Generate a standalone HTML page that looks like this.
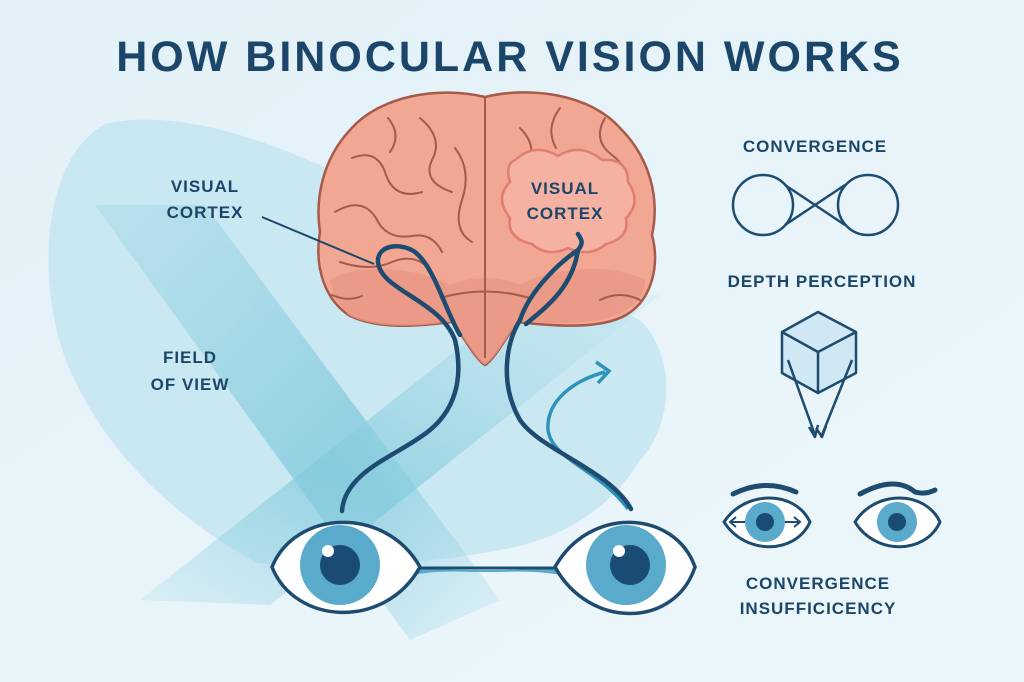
<!DOCTYPE html>
<html><head><meta charset="utf-8"><style>
html,body{margin:0;padding:0;width:1024px;height:682px;overflow:hidden;background:#e6f4f9}
svg{display:block}
text{font-family:"Liberation Sans",sans-serif;font-weight:bold;fill:#1c4669}
</style></head><body>
<svg width="1024" height="682" viewBox="0 0 1024 682" xmlns="http://www.w3.org/2000/svg">
<defs>
<linearGradient id="bg" x1="0" y1="0" x2="1" y2="1"><stop offset="0" stop-color="#e2f1f8"/><stop offset="1" stop-color="#ecf7fb"/></linearGradient>
<linearGradient id="b1" x1="0" y1="0" x2="1" y2="1"><stop offset="0" stop-color="#a8dae8" stop-opacity="0.5"/><stop offset="0.6" stop-color="#7fc8dc" stop-opacity="0.75"/><stop offset="1" stop-color="#a8dae8" stop-opacity="0.2"/></linearGradient>
<linearGradient id="b2" x1="0" y1="1" x2="1" y2="0"><stop offset="0" stop-color="#9dd5e4" stop-opacity="0.2"/><stop offset="0.4" stop-color="#80c9dc" stop-opacity="0.7"/><stop offset="1" stop-color="#c7e7f1" stop-opacity="0.4"/></linearGradient>
</defs>
<rect width="1024" height="682" fill="url(#bg)"/>
<path d="M105 124 C190 105 300 150 420 215 L640 320 C680 360 670 430 640 460 C610 510 560 540 500 550 C420 565 330 570 257 563 C180 520 110 460 70 370 C35 290 40 160 105 124Z" fill="#c4e5f0" opacity="0.85"/>
<path d="M95 205 L205 205 L500 600 L410 640 Z" fill="url(#b1)"/>
<path d="M140 600 L270 605 L660 295 L520 300 Z" fill="url(#b2)"/>
<!-- title -->
<text x="510" y="71" font-size="43" text-anchor="middle" letter-spacing="3">HOW BINOCULAR VISION WORKS</text>
<!-- brain -->
<path d="M485 97 C440 86 380 95 350 130 C322 160 315 200 320 232 C314 268 325 300 350 316 C380 330 420 326 452 322 C466 340 476 360 485 365 C494 360 504 340 518 322 C552 326 600 330 626 315 C652 300 660 265 652 235 C660 198 650 158 620 128 C590 94 530 86 485 97Z" fill="#f2a792" stroke="#a65a4c" stroke-width="2.5"/>
<path d="M330 280 C360 262 420 268 450 285 C470 276 500 276 520 285 C550 268 610 262 645 280 C645 300 630 312 600 320 C570 325 540 322 518 322 C505 340 494 360 485 365 C476 360 466 340 452 322 C420 326 380 330 350 316 C338 305 332 293 330 280Z" fill="#e79783" opacity="0.8"/>
<path d="M485 97 L485 300 M485 300 L485 358" stroke="#a65a4c" stroke-width="2" fill="none"/>
<path d="M440 298 Q485 285 530 298" stroke="#a65a4c" stroke-width="2" fill="none"/>
<g stroke="#a65a4c" stroke-width="2" fill="none" stroke-linecap="round">
<path d="M352 158 Q378 148 386 175 Q395 200 422 192"/>
<path d="M335 212 Q362 196 376 218 Q386 240 412 236 Q432 232 442 252"/>
<path d="M420 118 Q444 138 432 160 Q422 182 452 192"/>
<path d="M455 148 Q472 170 462 200 Q452 230 472 242"/>
<path d="M340 262 Q370 272 392 262 Q416 252 432 272"/>
<path d="M388 118 Q402 135 390 152"/>
<path d="M605 118 Q592 140 612 155 Q632 170 622 192"/>
<path d="M560 108 Q545 128 556 148"/>
<path d="M520 128 Q540 148 525 170"/>
<path d="M600 300 Q620 290 640 300"/>
<path d="M332 295 Q348 302 362 296"/>
</g>
<path d="M515 160 Q535 142 558 156 Q580 142 602 160 Q628 158 628 182 Q642 202 626 218 Q630 238 606 244 Q590 258 568 248 Q548 258 532 244 Q506 238 510 218 Q494 198 510 182 Q505 164 515 160Z" fill="#f5b1a2" stroke="#e17d71" stroke-width="2.5"/>
<text x="565" y="194" font-size="17" text-anchor="middle" letter-spacing="1">VISUAL</text>
<text x="565" y="219" font-size="17" text-anchor="middle" letter-spacing="1">CORTEX</text>
<!-- labels left -->
<text x="205" y="192" font-size="17" text-anchor="middle" letter-spacing="1">VISUAL</text>
<text x="205" y="218" font-size="17" text-anchor="middle" letter-spacing="1">CORTEX</text>
<line x1="262" y1="217" x2="374" y2="264" stroke="#1c4669" stroke-width="2"/>
<text x="190" y="363" font-size="17" text-anchor="middle" letter-spacing="1">FIELD</text>
<text x="190" y="390" font-size="17" text-anchor="middle" letter-spacing="1">OF VIEW</text>
<!-- nerves -->
<path d="M628 509 C600 470 552 460 548 430 C546 400 575 380 605 372" stroke="#2e93b8" stroke-width="3.5" fill="none"/>
<path d="M596 362 L609 371 L598 383" stroke="#2e93b8" stroke-width="3.5" fill="none"/>
<g stroke="#1d4c70" stroke-width="4.5" fill="none" stroke-linecap="round">
<path d="M342 511 C345 470 400 455 430 430 C460 405 462 370 455 340 C440 300 380 290 378 262 C377 245 400 242 415 252 C435 268 445 310 460 335"/>
<path d="M631 509 C610 470 540 450 520 420 C500 385 505 345 520 320 C530 290 560 262 578 250 C585 242 580 238 578 234 M578 250 C572 290 542 310 526 324"/>
</g>
<!-- eyes -->
<path d="M412 565 C440 570 455 570 483 570 C515 570 530 570 563 565 L563 575 C530 570 515 572 483 572 C455 572 440 570 412 575Z" fill="#5aaacb"/>
<path d="M415 568 L560 568" stroke="#1d4c70" stroke-width="3" fill="none"/>
<path d="M272 567 C295 510 385 505 420 567 C385 630 295 625 272 567Z" fill="#fff" stroke="#1d4c70" stroke-width="3.5"/>
<path d="M555 567 C590 505 675 510 695 567 C675 628 590 630 555 567Z" fill="#fff" stroke="#1d4c70" stroke-width="3.5"/>
<circle cx="340" cy="565" r="40" fill="#5aaacb"/><circle cx="340" cy="565" r="20" fill="#1a4b72"/><circle cx="328" cy="551" r="6" fill="#fff"/>
<circle cx="626" cy="565" r="40" fill="#5aaacb"/><circle cx="630" cy="565" r="20" fill="#1a4b72"/><circle cx="619" cy="551" r="6" fill="#fff"/>
<!-- right column -->
<text x="815" y="152" font-size="17" text-anchor="middle" letter-spacing="1">CONVERGENCE</text>
<g stroke="#1d4c70" stroke-width="2.5" fill="none">
<circle cx="763" cy="205" r="30"/><circle cx="868" cy="205" r="30"/>
<path d="M785 185 L845 225 M785 225 L845 185"/>
</g>
<text x="822" y="287" font-size="17" text-anchor="middle" letter-spacing="1">DEPTH PERCEPTION</text>
<g stroke="#1d4c70" stroke-width="2.5" fill="#cfe8f3" stroke-linejoin="round">
<path d="M818 312 L856 332 L856 373 L818 393 L782 373 L782 332Z"/>
<path d="M782 332 L818 352 L856 332 M818 352 L818 393" fill="none"/>
<path d="M788 360 L815 435 M852 360 L822 435" fill="none"/>
<path d="M809 427 L815 437 L818 425 M826 426 L822 437 L816 428" fill="none"/>
</g>
<g stroke="#1d4c70" stroke-width="3" fill="#fff">
<path d="M724 522 C745 490 795 490 810 522 C795 555 745 555 724 522Z"/>
<path d="M855 522 C875 490 925 490 940 522 C925 555 875 555 855 522Z"/>
<path d="M733 494 Q765 478 796 492 M860 494 Q895 475 915 492 Q925 495 935 490" fill="none" stroke-width="5" stroke-linecap="round"/>
</g>
<circle cx="765" cy="522" r="20" fill="#5aaacb"/><circle cx="765" cy="522" r="9" fill="#1a4b72"/>
<circle cx="897" cy="522" r="20" fill="#5aaacb"/><circle cx="897" cy="522" r="9" fill="#1a4b72"/>
<path d="M730 522 L745 522 M736 517 L730 522 L736 527 M800 522 L785 522 M794 517 L800 522 L794 527" stroke="#1d4c70" stroke-width="2" fill="none"/>
<text x="818" y="589" font-size="17" text-anchor="middle" letter-spacing="1">CONVERGENCE</text>
<text x="818" y="614" font-size="17" text-anchor="middle" letter-spacing="1">INSUFFICICENCY</text>
</svg>
</body></html>
